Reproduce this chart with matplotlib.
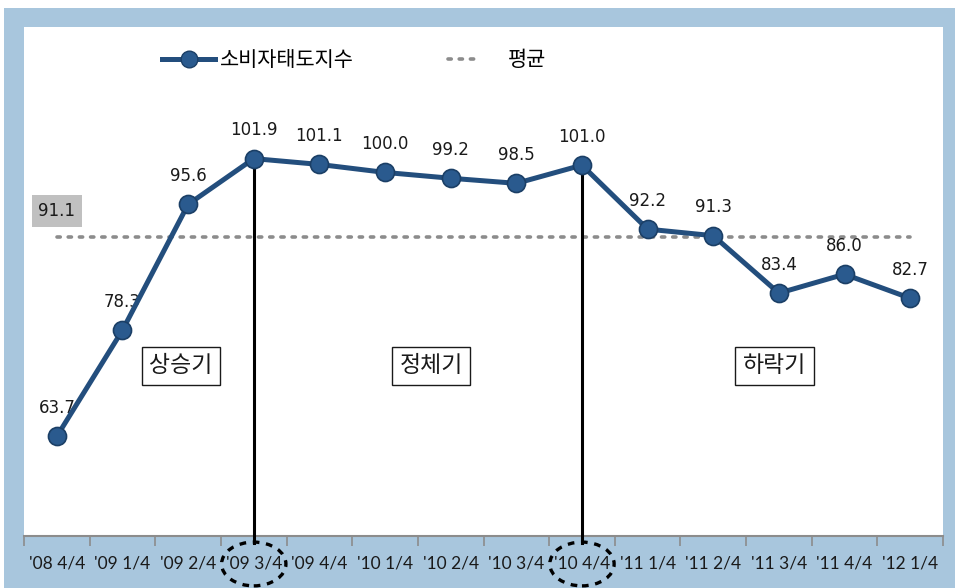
import matplotlib
matplotlib.use("Agg")
import matplotlib.pyplot as plt
from matplotlib.patches import Ellipse, Rectangle
from matplotlib.lines import Line2D
import matplotlib.transforms as mtransforms

plt.rcParams['font.family'] = ['Noto Sans CJK KR', 'DejaVu Sans']

categories = ["'08 4/4", "'09 1/4", "'09 2/4", "'09 3/4", "'09 4/4", "'10 1/4", "'10 2/4",
              "'10 3/4", "'10 4/4", "'11 1/4", "'11 2/4", "'11 3/4", "'11 4/4", "'12 1/4"]
values = [63.7, 78.3, 95.6, 101.9, 101.1, 100.0, 99.2, 98.5, 101.0, 92.2, 91.3, 83.4, 86.0, 82.7]
average = 91.1
series_name = "소비자태도지수"
avg_name = "평균"
phases = ["상승기", "정체기", "하락기"]
phase_x = [1.89, 5.70, 10.93]
phase_y = 73.4
marked_idx = [3, 8]

W, H = 955, 588
fig = plt.figure(figsize=(W / 100, H / 100), dpi=100)
fig.patch.set_facecolor('white')
bg = fig.add_axes([4 / W, 0, (W - 4) / W, (H - 8) / H], zorder=-10)
bg.set_facecolor('#A8C6DD')
bg.set_xticks([]); bg.set_yticks([])
for s in bg.spines.values():
    s.set_visible(False)

AX_L, AX_R, AX_T, AX_B = 24, 943, 27, 536
ax = fig.add_axes([AX_L / W, (H - AX_B) / H, (AX_R - AX_L) / W, (AX_B - AX_T) / H], zorder=1)
ax.set_facecolor('white')
n = len(values)
x = list(range(n))
ax.set_xlim(-0.5, n - 0.5)
ax.set_ylim(50, 120)

for s in ['top', 'right', 'left']:
    ax.spines[s].set_visible(False)
ax.spines['bottom'].set_color('#8C8C8C')
ax.spines['bottom'].set_linewidth(1.5)
ax.set_yticks([])

ax.set_xticks([i - 0.5 for i in range(n + 1)])
ax.set_xticklabels([])
ax.tick_params(axis='x', which='major', length=7, color='#8C8C8C', width=1.2)
ax.set_xticks(x, minor=True)
ax.set_xticklabels(categories, minor=True, fontsize=12.5, family=['Lato', 'DejaVu Sans'], color='#1a1a1a')
ax.tick_params(axis='x', which='minor', length=0, pad=14)

line_color = '#234E7D'
ax.plot(x, values, color=line_color, linewidth=3.6, marker='o', markersize=13,
        markerfacecolor='#2A5A8E', markeredgecolor='#1B3F66', markeredgewidth=1.2, zorder=5,
        clip_on=False)

ax.plot([0, n - 1], [average, average], color='#8C8C8C', linewidth=2.6,
        linestyle=(0, (0.9, 2.2)), dash_capstyle='round', zorder=3)

for xi, v in zip(x, values):
    ax.annotate(f"{v:.1f}", (xi, v), xytext=(0, 14), textcoords='offset points',
                ha='center', va='bottom', fontsize=12, family=['DejaVu Sans'], color='#1a1a1a')

ax.text(0, average + 3.6, f"{average:.1f}", ha='center', va='center', fontsize=12,
        family=['DejaVu Sans'], color='#1a1a1a',
        bbox=dict(boxstyle='square,pad=0.4', facecolor='#C0C0C0', edgecolor='none'))

for xp, name in zip(phase_x, phases):
    ax.text(xp, phase_y, name, ha='center', va='center', fontsize=16.5, color='#1a1a1a',
            bbox=dict(boxstyle='square,pad=0.33', facecolor='white', edgecolor='#1a1a1a', linewidth=1.0))

blend = mtransforms.blended_transform_factory(ax.transData, ax.transAxes)
for i in marked_idx:
    ax.plot([i, i], [values[i], 49.0], color='black', linewidth=2.2, zorder=4, clip_on=False)
    ax.add_patch(Ellipse((i, -0.055), 0.98, 0.086, transform=blend, fill=False,
                         edgecolor='black', linestyle=(0, (2, 2)), linewidth=2.4, clip_on=False, zorder=6))

def ax_frac(px, py):
    return ((px - AX_L) / (AX_R - AX_L), (AX_B - py) / (AX_B - AX_T))

fs_leg = 15
em = fs_leg * 100 / 72
h1 = Line2D([], [], color=line_color, linewidth=3.6, marker='o', markersize=12,
            markerfacecolor='#2A5A8E', markeredgecolor='#1B3F66')
h2 = Line2D([], [], color='#8C8C8C', linewidth=2.6, linestyle=(0, (0.9, 2.2)), dash_capstyle='round')
leg1 = ax.legend([h1], [series_name], loc='center left', bbox_to_anchor=ax_frac(162, 60),
                 frameon=False, fontsize=fs_leg, handlelength=53 / em, handletextpad=5 / em,
                 borderpad=0, borderaxespad=0)
ax.add_artist(leg1)
ax.legend([h2], [avg_name], loc='center left', bbox_to_anchor=ax_frac(448, 60),
          frameon=False, fontsize=fs_leg, handlelength=31 / em, handletextpad=29 / em,
          borderpad=0, borderaxespad=0)

fig.savefig('out.png', dpi=100)
